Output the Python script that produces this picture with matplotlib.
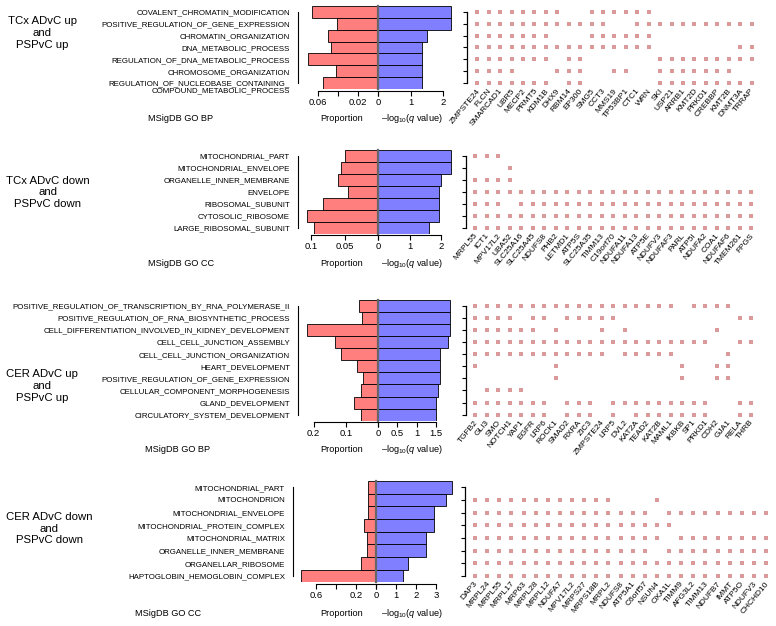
import matplotlib
matplotlib.use("Agg")
import matplotlib.pyplot as plt
import matplotlib.transforms as mtransforms

plt.rcParams['font.family'] = ['Liberation Sans', 'DejaVu Sans']
plt.rcParams['mathtext.fontset'] = 'custom'
plt.rcParams['mathtext.rm'] = 'Liberation Sans'
plt.rcParams['mathtext.it'] = 'Liberation Sans:italic'

W, H = 776, 626

# ---- TCx up ----
p1_group = "TCx ADvC up\nand\nPSPvC up"
p1_db = "MSigDB GO BP"
p1_terms = ["COVALENT_CHROMATIN_MODIFICATION", "POSITIVE_REGULATION_OF_GENE_EXPRESSION",
            "CHROMATIN_ORGANIZATION", "DNA_METABOLIC_PROCESS",
            "REGULATION_OF_DNA_METABOLIC_PROCESS", "CHROMOSOME_ORGANIZATION",
            "REGULATION_OF_NUCLEOBASE_CONTAINING_\nCOMPOUND_METABOLIC_PROCESS"]
p1_prop = [0.066, 0.041, 0.050, 0.047, 0.070, 0.042, 0.055]
p1_q = [2.22, 2.22, 1.51, 1.34, 1.34, 1.34, 1.34]
p1_genes = ["ZMPSTE24", "FLCN", "SMARCAD1", "UBR5", "MECP2", "PRMT5", "KDM1B", "DHX9", "RBM14",
            "EP300", "SMG5", "CCT3", "MMS19", "TP53BP1", "CTC1", "WRN", "SKI", "USP21", "ARRB1",
            "KMT2D", "PRKD1", "CREBBP", "KMT2B", "DNMT3A", "TRRAP"]
p1_hits = ["1111111100111111000000000",
           "1111111111110011111111111",
           "1111111000111111000000000",
           "1111111111111111000000011",
           "1111111011000000111111111",
           "1111000111001100111111100",
           "1111111011000000111111111"]

# ---- TCx down ----
p2_group = "TCx ADvC down\nand\nPSPvC down"
p2_db = "MSigDB GO CC"
p2_terms = ["MITOCHONDRIAL_PART", "MITOCHONDRIAL_ENVELOPE", "ORGANELLE_INNER_MEMBRANE",
            "ENVELOPE", "RIBOSOMAL_SUBUNIT", "CYTOSOLIC_RIBOSOME", "LARGE_RIBOSOMAL_SUBUNIT"]
p2_prop = [0.049, 0.056, 0.0595, 0.045, 0.083, 0.107, 0.096]
p2_q = [2.29, 2.29, 1.98, 1.92, 1.92, 1.92, 1.61]
p2_genes = ["MRPL55", "ICT1", "MPV17L2", "UBA52", "SLC25A16", "SLC25A45", "NDUFS8", "PHB2",
            "LETMD1", "ATP5S", "SLC25A35", "TIMM13", "C19orf70", "NDUFA11", "NDUFA13", "ATP5E",
            "NDUFV3", "NDUFAF3", "PARL", "ATP5I", "NDUFA2", "COA1", "NDUFAF6", "TMEM261", "FPGS"]
p2_hits = ["1110000000000000000000000",
           "0001000000000000000000000",
           "1111000000000000000000000",
           "1111111111111111111111111",
           "1110111111111111111111111",
           "1111111111111111111111111",
           "1111111111111111111111111"]

# ---- CER up ----
p3_group = "CER ADvC up\nand\nPSPvC up"
p3_db = "MSigDB GO BP"
p3_terms = ["POSITIVE_REGULATION_OF_TRANSCRIPTION_BY_RNA_POLYMERASE_II",
            "POSITIVE_REGULATION_OF_RNA_BIOSYNTHETIC_PROCESS",
            "CELL_DIFFERENTIATION_INVOLVED_IN_KIDNEY_DEVELOPMENT",
            "CELL_CELL_JUNCTION_ASSEMBLY", "CELL_CELL_JUNCTION_ORGANIZATION",
            "HEART_DEVELOPMENT", "POSITIVE_REGULATION_OF_GENE_EXPRESSION",
            "CELLULAR_COMPONENT_MORPHOGENESIS", "GLAND_DEVELOPMENT",
            "CIRCULATORY_SYSTEM_DEVELOPMENT"]
p3_prop = [0.059, 0.050, 0.220, 0.133, 0.115, 0.066, 0.046, 0.053, 0.074, 0.053]
p3_q = [1.88, 1.88, 1.88, 1.82, 1.62, 1.62, 1.62, 1.56, 1.50, 1.50]
p3_genes = ["TGFB2", "GLI3", "SMO", "NOTCH1", "YAP1", "EGFR", "LRP6", "ROCK1", "SMAD2", "RXRA",
            "ZIC3", "ZMPSTE24", "LRP5", "DVL2", "KAT2A", "TEAD2", "KAT2B", "MAML1", "IKBKB",
            "SP1", "PRKD1", "CDH2", "GJA1", "RELA", "THRB"]
p3_hits = ["1111111111111111110111100",
           "1111011011111000000000011",
           "1111110100010100000001000",
           "1111111111111111111110011",
           "1111111111110111110000100",
           "1000000100000000001001100",
           "0000000100000000001001100",
           "0111100000000000000000000",
           "1111111011101111111110011",
           "1111111011101011111110011"]

# ---- CER down ----
p4_group = "CER ADvC down\nand\nPSPvC down"
p4_db = "MSigDB GO CC"
p4_terms = ["MITOCHONDRIAL_PART", "MITOCHONDRION", "MITOCHONDRIAL_ENVELOPE",
            "MITOCHONDRIAL_PROTEIN_COMPLEX", "MITOCHONDRIAL_MATRIX", "ORGANELLE_INNER_MEMBRANE",
            "ORGANELLAR_RIBOSOME", "HAPTOGLOBIN_HEMOGLOBIN_COMPLEX"]
p4_prop = [0.083, 0.077, 0.083, 0.117, 0.093, 0.093, 0.150, 0.750]
p4_q = [3.82, 3.48, 2.92, 2.92, 2.48, 2.48, 1.62, 1.37]
p4_genes = ["DAP3", "MRPL24", "MRPL55", "MRPL17", "MRP63", "MRPL28", "MRPL12", "NDUFA7",
            "MPV17L2", "MRPS27", "MRPS18B", "MRPL2", "NDUFS8", "ATP5A1", "C6orf57", "NSUN4",
            "OXA1L", "TIMM9", "AFG3L2", "TIMM13", "NDUFB7", "IMMT", "ATP5O", "NDUFV3", "CHCHD10"]
p4_hits = ["0000000000000000000000000",
           "1111111111110001000000000",
           "1111111111111110111111111",
           "1111111111111111100000000",
           "1111111111111111011111111",
           "1111111111111110111111111",
           "1111111111111111111111111",
           "1111111111111111111111111"]

p1_pticks, p1_plabels, p1_qticks = [0.06, 0.04, 0.02, 0], ["0.06", "", "0.02", "0"], [0, 1, 2]
p2_pticks, p2_plabels, p2_qticks = [0.1, 0.05, 0], ["0.1", "0.05", "0"], [0, 1, 2]
p3_pticks, p3_plabels, p3_qticks = [0.2, 0.1, 0], ["0.2", "0.1", "0"], [0, 0.5, 1, 1.5]
p4_pticks, p4_plabels, p4_qticks = [0.6, 0.4, 0.2, 0], ["0.6", "", "0.2", "0"], [0, 1, 2, 3]

RED, BLUE, DOT = "#FF7F7F", "#7F7FFF", "#DA9A9A"

fig = plt.figure(figsize=(W / 100, H / 100), dpi=100)


def rect(x0, x1, y0, y1):
    return [x0 / W, 1 - y1 / H, (x1 - x0) / W, (y1 - y0) / H]


def panel(lay, group, db, terms, prop, q, genes, hits, pticks, plabels, qticks):
    n = len(terms)
    top = lay['row0'] - lay['step'] / 2
    bot = lay['row0'] + (n - 0.5) * lay['step']

    # term names + vertical line
    lab = fig.add_axes(rect(lay['line_x'], lay['line_x'] + 1, top, bot))
    lab.patch.set_visible(False)
    for s in ['top', 'right', 'bottom']:
        lab.spines[s].set_visible(False)
    lab.spines['left'].set_bounds(0, n - 1)
    lab.spines['left'].set_linewidth(0.8)
    lab.set_ylim(n - 0.5, -0.5)
    lab.set_xticks([])
    lab.set_yticks(range(n))
    lab.set_yticklabels([t if '\n' not in t else '' for t in terms], fontsize=5.7)
    lab.tick_params(axis='y', length=0, pad=5.8)
    shift = mtransforms.ScaledTranslation(-5.8 / 72, 0, fig.dpi_scale_trans)
    for i, t in enumerate(terms):
        if '\n' in t:
            lab.text(0, i + 0.31, t, fontsize=5.7, ha='right', va='center',
                     linespacing=1.0, multialignment='right',
                     transform=lab.get_yaxis_transform() + shift)

    # proportion bars (left) and -log10 q bars (right)
    zero = lay['zero']
    axl = fig.add_axes(rect(300, zero, top, bot))
    axr = fig.add_axes(rect(zero, 456, top, bot))
    axl.barh(range(n), prop, height=1.0, color=RED, edgecolor='black', linewidth=0.6)
    axr.barh(range(n), q, height=1.0, color=BLUE, edgecolor='black', linewidth=0.6)
    axl.set_xlim((zero - 300) / lay['lscale'], 0)
    axr.set_xlim(0, (456 - zero) / lay['rscale'])
    for ax in [axl, axr]:
        ax.set_ylim(n - 0.5, -0.5)
        ax.patch.set_visible(False)
        for s in ['top', 'right', 'left']:
            ax.spines[s].set_visible(False)
        ax.spines['bottom'].set_position(('outward', 1))
        ax.spines['bottom'].set_linewidth(0.8)
        ax.set_yticks([])
        ax.tick_params(axis='x', length=3.5, width=0.8, pad=1.5, labelsize=6.8)
    axl.set_xticks(pticks)
    axl.set_xticklabels(plabels)
    axl.spines['bottom'].set_bounds(pticks[0], 0)
    axr.set_xticks(qticks)
    axr.set_xticklabels([''] + [('%g' % v) for v in qticks[1:]])
    axr.spines['bottom'].set_bounds(0, qticks[-1])
    axr.plot([0, 0], [-0.5, n - 0.5], color='#666666', lw=1.6, clip_on=False, zorder=4)

    # gene membership squares
    dx = lay['dot_x']
    axd = fig.add_axes(rect(dx, W, top, bot))
    axd.patch.set_visible(False)
    for i, row in enumerate(hits):
        xs = [j for j, c in enumerate(row) if c == '1']
        axd.scatter(xs, [i] * len(xs), marker='s', s=6.0, color=DOT, linewidths=0)
    axd.set_xlim((dx - lay['c0']) / lay['cs'], (W - lay['c0']) / lay['cs'])
    axd.set_ylim(n - 0.5, -0.5)
    for s in ['top', 'right', 'bottom']:
        axd.spines[s].set_visible(False)
    axd.spines['left'].set_bounds(0, n - 1)
    axd.spines['left'].set_linewidth(0.9)
    axd.set_xticks([])
    axd.set_yticks(range(n))
    axd.set_yticklabels([])
    axd.tick_params(axis='y', length=3, width=0.8)
    for j, g in enumerate(genes):
        axd.annotate(g, xy=(j, n - 1), xytext=(1.2, -4.6), textcoords='offset points',
                     rotation=50, ha='right', va='center', rotation_mode='anchor',
                     fontsize=6.0, annotation_clip=False)

    # group title and footer labels
    gx, gy = lay['group_xy']
    fig.text(gx / W, 1 - gy / H, group, ha='center', va='center', fontsize=8.2,
             linespacing=1.22)
    fy = 1 - lay['foot_y'] / H
    fig.text(lay['db_x'] / W, fy, db, ha='center', va='center', fontsize=6.6)
    fig.text(342 / W, fy, "Proportion", ha='center', va='center', fontsize=6.6)
    fig.text(412 / W, fy, "–log$_{10}$($q$ value)", ha='center', va='center', fontsize=6.6)


layouts = [
    dict(row0=11.7, step=11.93, line_x=298, zero=378, lscale=1000, rscale=32.7,
         dot_x=467, c0=477.3, cs=11.43, group_xy=(42, 33), foot_y=118.3, db_x=181),
    dict(row0=156, step=12.0, line_x=298, zero=378, lscale=667, rscale=31.7,
         dot_x=466, c0=475, cs=11.5, group_xy=(48, 192.3), foot_y=263.3, db_x=181),
    dict(row0=306, step=12.07, line_x=298, zero=378, lscale=322, rscale=38.5,
         dot_x=466, c0=475, cs=11.5, group_xy=(42, 386), foot_y=450, db_x=178),
    dict(row0=487.3, step=12.67, line_x=293, zero=376, lscale=100, rscale=20,
         dot_x=465, c0=475, cs=12.13, group_xy=(49, 528.7), foot_y=613.3, db_x=168),
]

panel(layouts[0], p1_group, p1_db, p1_terms, p1_prop, p1_q, p1_genes, p1_hits,
      p1_pticks, p1_plabels, p1_qticks)
panel(layouts[1], p2_group, p2_db, p2_terms, p2_prop, p2_q, p2_genes, p2_hits,
      p2_pticks, p2_plabels, p2_qticks)
panel(layouts[2], p3_group, p3_db, p3_terms, p3_prop, p3_q, p3_genes, p3_hits,
      p3_pticks, p3_plabels, p3_qticks)
panel(layouts[3], p4_group, p4_db, p4_terms, p4_prop, p4_q, p4_genes, p4_hits,
      p4_pticks, p4_plabels, p4_qticks)

fig.savefig("out.png", dpi=100)
